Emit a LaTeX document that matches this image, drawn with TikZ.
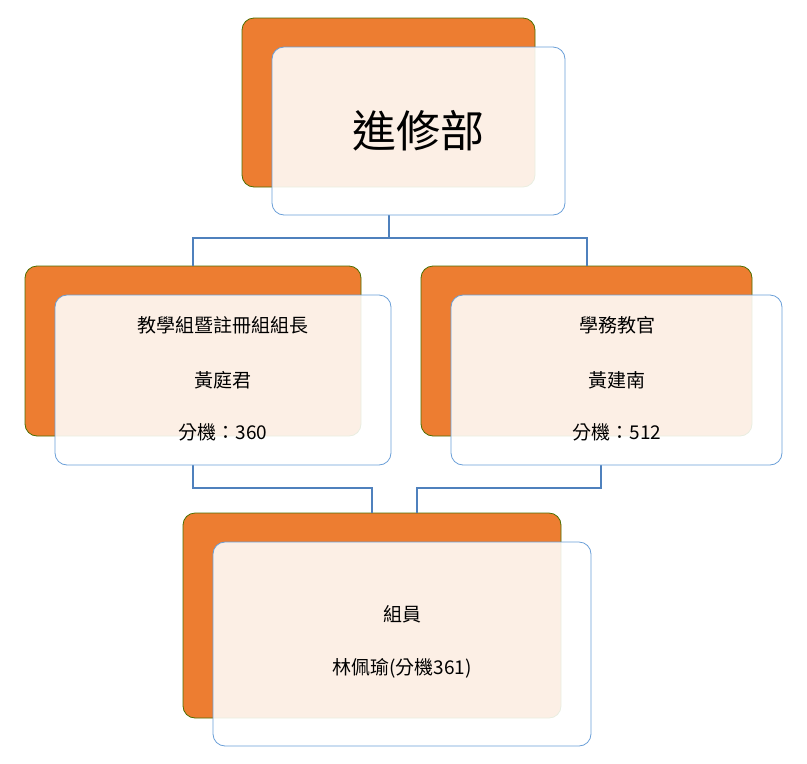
\documentclass[tikz,border=0pt]{standalone}
\usepackage{fontspec}
\newfontfamily\cjk{Noto Sans CJK TC}
\begin{document}
\begin{tikzpicture}[x=1pt,y=-1pt,
 back/.style={draw=green!40!black!70!orange,line width=0.8pt,fill=orangeF,rounded corners=12pt},
 front/.style={draw=blueL,line width=0.8pt,fill=white,fill opacity=0.88,rounded corners=12pt},
 conn/.style={draw=blueC,line width=1.3pt},
 txt/.style={font=\cjk\fontsize{19}{30}\selectfont,align=center,text opacity=1}]
\definecolor{orangeF}{HTML}{ED7D31}
\definecolor{blueL}{HTML}{6A9FD8}
\definecolor{blueC}{HTML}{4F81BD}
\useasboundingbox (0,0) rectangle (807,764);
% backs
\path[back] (242,18) rectangle (535,187);
\path[back] (25,266) rectangle (361,436);
\path[back] (421,266) rectangle (752,436);
\path[back] (183,513) rectangle (561,718);
\coordinate (tb) at (389,215);
\coordinate (lt) at (193,266);
\coordinate (rt) at (587,266);
\coordinate (lb) at (193,465);
\coordinate (rb) at (601,465);
\coordinate (bl) at (372,513);
\coordinate (br) at (417,513);
\draw[conn] (tb) -- (389,238) -| (lt);
\draw[conn] (389,238) -| (rt);
\draw[conn] (lb) -- (193,488) -| (bl);
\draw[conn] (rb) -- (601,488) -| (br);
% fronts
\path[front] (272,47) rectangle (565,215);
\path[front] (55,295) rectangle (391,465);
\path[front] (451,295) rectangle (782,465);
\path[front] (213,542) rectangle (591,746);
\node[txt,font=\cjk\fontsize{44}{50}\selectfont] (top) at (418,131) {進修部};
\node[txt] (l1) at (223,325) {教學組暨註冊組組長};
\node[txt] (l2) at (223,380) {黃庭君};
\node[txt] (l3) at (223,432) {分機：360};
\node[txt] (r1) at (617,325) {學務教官};
\node[txt] (r2) at (617,380) {黃建南};
\node[txt] (r3) at (617,432) {分機：512};
\node[txt] (b1) at (402,614) {組員};
\node[txt] (b2) at (402,668) {林佩瑜(分機361)};
\end{tikzpicture}
\end{document}
